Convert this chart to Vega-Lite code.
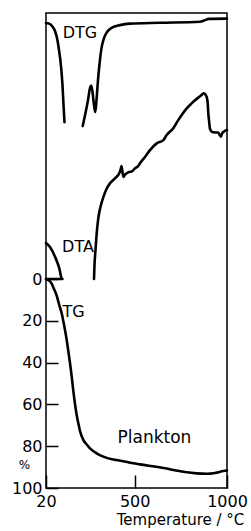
{
  "$schema": "https://vega.github.io/schema/vega-lite/v6.json",
  "width": 181,
  "height": 475,
  "autosize": "none",
  "padding": {"left": 46, "top": 13, "right": 24, "bottom": 43},
  "background": "white",
  "config": {
    "view": {"stroke": "black", "strokeWidth": 1.5},
    "font": "DejaVu Sans",
    "axis": {"grid": false, "domain": false, "labelColor": "black", "titleColor": "black", "tickColor": "black", "labelFont": "DejaVu Sans", "titleFont": "DejaVu Sans"}
  },
  "datasets": {
    "curves": [
      {"s": "DTG1", "i": 1, "t": 20, "v": -122.5},
      {"s": "DTG1", "i": 2, "t": 36.2, "v": -122.2},
      {"s": "DTG1", "i": 3, "t": 52.5, "v": -121.1},
      {"s": "DTG1", "i": 4, "t": 68.7, "v": -118.7},
      {"s": "DTG1", "i": 5, "t": 79.6, "v": -115.3},
      {"s": "DTG1", "i": 6, "t": 90.4, "v": -109.6},
      {"s": "DTG1", "i": 7, "t": 101.2, "v": -101.9},
      {"s": "DTG1", "i": 8, "t": 109.3, "v": -92.8},
      {"s": "DTG1", "i": 9, "t": 114.8, "v": -83.3},
      {"s": "DTG1", "i": 10, "t": 120.2, "v": -75.1},
      {"s": "DTG2", "i": 1, "t": 218.7, "v": -73.2},
      {"s": "DTG2", "i": 2, "t": 233.9, "v": -79.4},
      {"s": "DTG2", "i": 3, "t": 247.4, "v": -85.6},
      {"s": "DTG2", "i": 4, "t": 258.2, "v": -91.4},
      {"s": "DTG2", "i": 5, "t": 264.7, "v": -92.6},
      {"s": "DTG2", "i": 6, "t": 271.8, "v": -89.5},
      {"s": "DTG2", "i": 7, "t": 279.9, "v": -83.3},
      {"s": "DTG2", "i": 8, "t": 286.9, "v": -79.9},
      {"s": "DTG2", "i": 9, "t": 293.4, "v": -85.6},
      {"s": "DTG2", "i": 10, "t": 301.5, "v": -95.2},
      {"s": "DTG2", "i": 11, "t": 309.7, "v": -102.9},
      {"s": "DTG2", "i": 12, "t": 320.5, "v": -110.5},
      {"s": "DTG2", "i": 13, "t": 334.0, "v": -115.3},
      {"s": "DTG2", "i": 14, "t": 350.3, "v": -118.2},
      {"s": "DTG2", "i": 15, "t": 377.4, "v": -120.3},
      {"s": "DTG2", "i": 16, "t": 420.7, "v": -121.5},
      {"s": "DTG2", "i": 17, "t": 474.8, "v": -122.2},
      {"s": "DTG2", "i": 18, "t": 637.2, "v": -122.6},
      {"s": "DTG2", "i": 19, "t": 853.8, "v": -123.1},
      {"s": "DTG2", "i": 20, "t": 875.5, "v": -123.7},
      {"s": "DTG2", "i": 21, "t": 902.5, "v": -124.5},
      {"s": "DTG2", "i": 22, "t": 1000, "v": -124.6},
      {"s": "DTA1", "i": 1, "t": 20, "v": -17.2},
      {"s": "DTA1", "i": 2, "t": 41.7, "v": -15.3},
      {"s": "DTA1", "i": 3, "t": 68.7, "v": -10.7},
      {"s": "DTA1", "i": 4, "t": 92.0, "v": -5.1},
      {"s": "DTA1", "i": 5, "t": 105.0, "v": -0.3},
      {"s": "DTA1", "i": 6, "t": 109.3, "v": 0},
      {"s": "DTA1", "i": 7, "t": 20, "v": 0},
      {"s": "DTA2", "i": 1, "t": 279.9, "v": 0},
      {"s": "DTA2", "i": 2, "t": 282.6, "v": -6.7},
      {"s": "DTA2", "i": 3, "t": 288.0, "v": -13.9},
      {"s": "DTA2", "i": 4, "t": 296.1, "v": -23.4},
      {"s": "DTA2", "i": 5, "t": 304.3, "v": -29.8},
      {"s": "DTA2", "i": 6, "t": 317.8, "v": -35.4},
      {"s": "DTA2", "i": 7, "t": 331.3, "v": -39.4},
      {"s": "DTA2", "i": 8, "t": 347.6, "v": -43.1},
      {"s": "DTA2", "i": 9, "t": 366.5, "v": -45.8},
      {"s": "DTA2", "i": 10, "t": 393.6, "v": -48.2},
      {"s": "DTA2", "i": 11, "t": 416.9, "v": -50.6},
      {"s": "DTA2", "i": 12, "t": 423.4, "v": -52.2},
      {"s": "DTA2", "i": 13, "t": 428.8, "v": -54.1},
      {"s": "DTA2", "i": 14, "t": 434.2, "v": -51.2},
      {"s": "DTA2", "i": 15, "t": 439.6, "v": -48.9},
      {"s": "DTA2", "i": 16, "t": 447.7, "v": -50.0},
      {"s": "DTA2", "i": 17, "t": 456.9, "v": -50.6},
      {"s": "DTA2", "i": 18, "t": 469.4, "v": -51.2},
      {"s": "DTA2", "i": 19, "t": 484.0, "v": -51.4},
      {"s": "DTA2", "i": 20, "t": 501.9, "v": -53.0},
      {"s": "DTA2", "i": 21, "t": 519.7, "v": -54.1},
      {"s": "DTA2", "i": 22, "t": 528.9, "v": -55.4},
      {"s": "DTA2", "i": 23, "t": 556.0, "v": -58.4},
      {"s": "DTA2", "i": 24, "t": 583.1, "v": -61.7},
      {"s": "DTA2", "i": 25, "t": 619.4, "v": -64.9},
      {"s": "DTA2", "i": 26, "t": 655.1, "v": -66.5},
      {"s": "DTA2", "i": 27, "t": 673.5, "v": -68.9},
      {"s": "DTA2", "i": 28, "t": 709.3, "v": -72.2},
      {"s": "DTA2", "i": 29, "t": 729.3, "v": -75.1},
      {"s": "DTA2", "i": 30, "t": 754.7, "v": -78.5},
      {"s": "DTA2", "i": 31, "t": 781.8, "v": -81.7},
      {"s": "DTA2", "i": 32, "t": 799.7, "v": -83.3},
      {"s": "DTA2", "i": 33, "t": 817.5, "v": -84.8},
      {"s": "DTA2", "i": 34, "t": 844.6, "v": -86.8},
      {"s": "DTA2", "i": 35, "t": 859.2, "v": -87.8},
      {"s": "DTA2", "i": 36, "t": 872.7, "v": -88.9},
      {"s": "DTA2", "i": 37, "t": 880.9, "v": -88.5},
      {"s": "DTA2", "i": 38, "t": 890.1, "v": -87.1},
      {"s": "DTA2", "i": 39, "t": 895.5, "v": -84.2},
      {"s": "DTA2", "i": 40, "t": 898.7, "v": -79.4},
      {"s": "DTA2", "i": 41, "t": 903.6, "v": -75.1},
      {"s": "DTA2", "i": 42, "t": 907.9, "v": -71.8},
      {"s": "DTA2", "i": 43, "t": 916.1, "v": -70.6},
      {"s": "DTA2", "i": 44, "t": 925.8, "v": -70.2},
      {"s": "DTA2", "i": 45, "t": 952.9, "v": -70.1},
      {"s": "DTA2", "i": 46, "t": 962.1, "v": -68.7},
      {"s": "DTA2", "i": 47, "t": 967.5, "v": -68.1},
      {"s": "DTA2", "i": 48, "t": 972.9, "v": -69.6},
      {"s": "DTA2", "i": 49, "t": 983.8, "v": -70.6},
      {"s": "DTA2", "i": 50, "t": 1000, "v": -71.3},
      {"s": "TG", "i": 1, "t": 20, "v": 0},
      {"s": "TG", "i": 2, "t": 36.2, "v": 0.7},
      {"s": "TG", "i": 3, "t": 50.9, "v": 2.2},
      {"s": "TG", "i": 4, "t": 63.3, "v": 4.8},
      {"s": "TG", "i": 5, "t": 77.9, "v": 7.9},
      {"s": "TG", "i": 6, "t": 90.4, "v": 12.0},
      {"s": "TG", "i": 7, "t": 105.0, "v": 16.4},
      {"s": "TG", "i": 8, "t": 114.8, "v": 20.6},
      {"s": "TG", "i": 9, "t": 122.9, "v": 24.4},
      {"s": "TG", "i": 10, "t": 132.1, "v": 29.2},
      {"s": "TG", "i": 11, "t": 140.7, "v": 34.4},
      {"s": "TG", "i": 12, "t": 149.9, "v": 40.2},
      {"s": "TG", "i": 13, "t": 159.1, "v": 46.6},
      {"s": "TG", "i": 14, "t": 167.8, "v": 53.4},
      {"s": "TG", "i": 15, "t": 177.0, "v": 59.8},
      {"s": "TG", "i": 16, "t": 186.2, "v": 65.1},
      {"s": "TG", "i": 17, "t": 194.9, "v": 69.0},
      {"s": "TG", "i": 18, "t": 204.1, "v": 72.7},
      {"s": "TG", "i": 19, "t": 222.0, "v": 77.0},
      {"s": "TG", "i": 20, "t": 240.4, "v": 79.2},
      {"s": "TG", "i": 21, "t": 258.2, "v": 81.0},
      {"s": "TG", "i": 22, "t": 294.5, "v": 83.4},
      {"s": "TG", "i": 23, "t": 330.2, "v": 85.0},
      {"s": "TG", "i": 24, "t": 384.4, "v": 86.4},
      {"s": "TG", "i": 25, "t": 402.8, "v": 86.6},
      {"s": "TG", "i": 26, "t": 492.7, "v": 88.2},
      {"s": "TG", "i": 27, "t": 528.9, "v": 88.7},
      {"s": "TG", "i": 28, "t": 673.5, "v": 90.7},
      {"s": "TG", "i": 29, "t": 709.3, "v": 91.4},
      {"s": "TG", "i": 30, "t": 836.0, "v": 93.0},
      {"s": "TG", "i": 31, "t": 890.1, "v": 93.2},
      {"s": "TG", "i": 32, "t": 935.0, "v": 92.8},
      {"s": "TG", "i": 33, "t": 980.0, "v": 91.9},
      {"s": "TG", "i": 34, "t": 1000, "v": 91.6}
    ],
    "labels": [
      {"label": "DTG", "t": 204, "v": -117.7, "size": 16},
      {"label": "DTA", "t": 193, "v": -15.1, "size": 16},
      {"label": "TG", "t": 169, "v": 15.6, "size": 16},
      {"label": "Plankton", "t": 607, "v": 76.2, "size": 17}
    ]
  },
  "layer": [
    {
      "data": {"name": "curves"},
      "mark": {"type": "line", "color": "black", "strokeWidth": 2.6, "strokeJoin": "round", "strokeCap": "round", "interpolate": "monotone"},
      "encoding": {
        "x": {"field": "t", "type": "quantitative", "scale": {"domain": [20, 1000], "nice": false, "zero": false},
          "axis": {"values": [20, 500, 1000], "format": "d", "title": "Temperature / °C", "labelFlush": false, "labelFontSize": 16, "tickSize": -13, "tickWidth": 1.5, "labelPadding": 18, "titleFontSize": 15, "titleFontWeight": "normal", "titleX": 134, "titleY": 31, "titleAnchor": null, "titleAlign": "center", "titleBaseline": "middle"}},
        "y": {"field": "v", "type": "quantitative", "scale": {"domain": [-127.3, 100], "reverse": true, "nice": false, "zero": false},
          "axis": {"values": [0, 20, 40, 60, 80, 100], "format": "d", "title": "%", "labelFlush": false, "labelFontSize": 16, "tickSize": -12, "tickWidth": 1.5, "labelPadding": 16, "titleFontSize": 12, "titleFontWeight": "normal", "titleAngle": 0, "titleX": -22, "titleY": 451.5, "titleAlign": "center", "titleBaseline": "middle"}},
        "detail": {"field": "s"},
        "order": {"field": "i", "type": "quantitative"}
      }
    },
    {
      "data": {"name": "labels"},
      "mark": {"type": "text", "color": "black", "font": "DejaVu Sans", "align": "center", "baseline": "middle"},
      "encoding": {
        "x": {"field": "t", "type": "quantitative"},
        "y": {"field": "v", "type": "quantitative"},
        "text": {"field": "label"},
        "size": {"field": "size", "type": "quantitative", "scale": null}
      }
    }
  ]
}
